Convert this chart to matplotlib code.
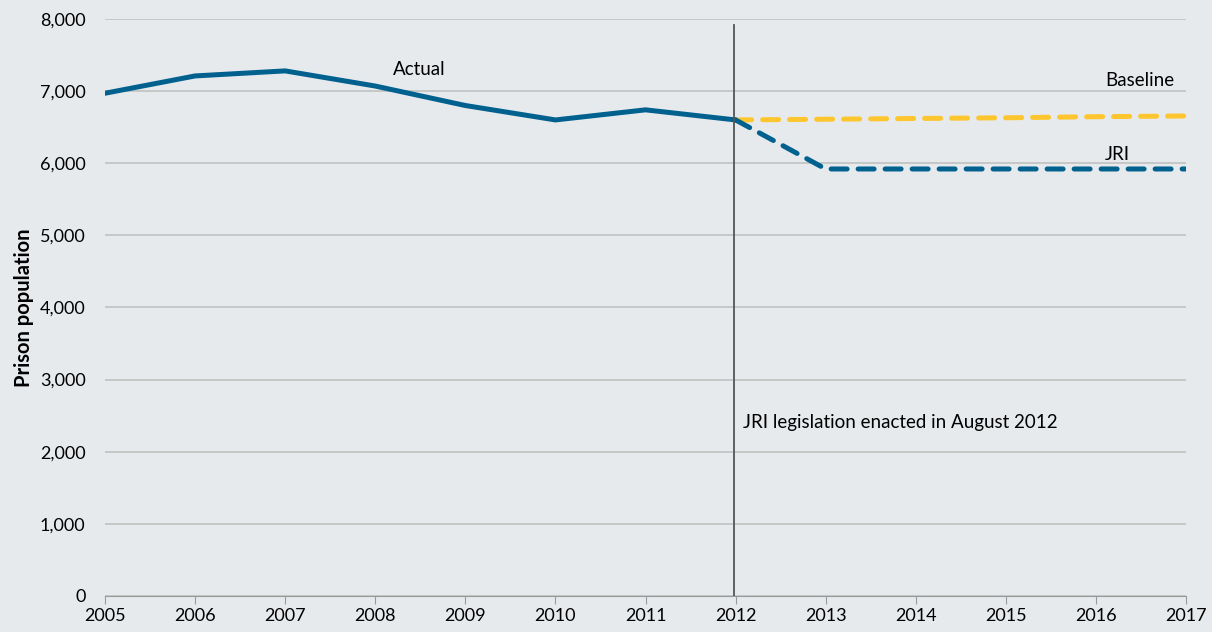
import matplotlib.pyplot as plt
from matplotlib.ticker import FuncFormatter

plt.rcParams["font.family"] = ["Lato", "DejaVu Sans"]

years_actual = [2005, 2006, 2007, 2008, 2009, 2010, 2011, 2012]
actual = [6970, 7210, 7280, 7070, 6800, 6600, 6740, 6600]
years_proj = [2012, 2013, 2014, 2015, 2016, 2017]
baseline = [6600, 6610, 6620, 6630, 6645, 6655]
jri = [6600, 5920, 5920, 5920, 5920, 5920]
enacted_year = 2011.98

BG = "#e7eaed"
BLUE = "#00618f"
GOLD = "#fdc52e"

fig = plt.figure(figsize=(12.12, 6.32), dpi=100, facecolor=BG)
ax = fig.add_axes([0.0866, 0.057, 0.892, 0.913], facecolor=BG)

ax.plot(years_actual, actual, color=BLUE, lw=3.6, solid_capstyle="round", zorder=3)
ax.plot(years_proj, baseline, color=GOLD, lw=3.6, ls=(0, (3.2, 2.2)), dash_capstyle="round", zorder=2)
ax.plot(years_proj, jri, color=BLUE, lw=3.6, ls=(0, (3.2, 2.2)), dash_capstyle="round", zorder=2)
ax.axvline(enacted_year, ymax=0.99, color="#555555", lw=1.3, zorder=4)

ax.set_xlim(2005, 2017)
ax.set_ylim(0, 8000)
ax.set_xticks(range(2005, 2018))
ax.set_yticks(range(0, 8001, 1000))
ax.yaxis.set_major_formatter(FuncFormatter(lambda v, p: f"{int(v):,}"))
ax.grid(axis="y", color="#c0c0c0", lw=1.2)
ax.set_axisbelow(True)
for s in ["top", "right", "left"]:
    ax.spines[s].set_visible(False)
ax.spines["bottom"].set_color("#9a9a9a")
ax.tick_params(axis="x", length=6, color="#9a9a9a", labelsize=13, pad=3)
ax.tick_params(axis="y", length=0, labelsize=13, pad=14)
ax.set_ylabel("Prison population", fontsize=14.5, fontweight="bold", labelpad=4)

ax.text(2008.2, 7300, "Actual", fontsize=13.5, va="center")
ax.text(2016.1, 7140, "Baseline", fontsize=13.5, va="center")
ax.text(2016.1, 6115, "JRI", fontsize=13.5, va="center")
ax.text(2012.08, 2410, "JRI legislation enacted in August 2012", fontsize=13.5, va="center")

fig.savefig("out.png", dpi=100, facecolor=BG)
